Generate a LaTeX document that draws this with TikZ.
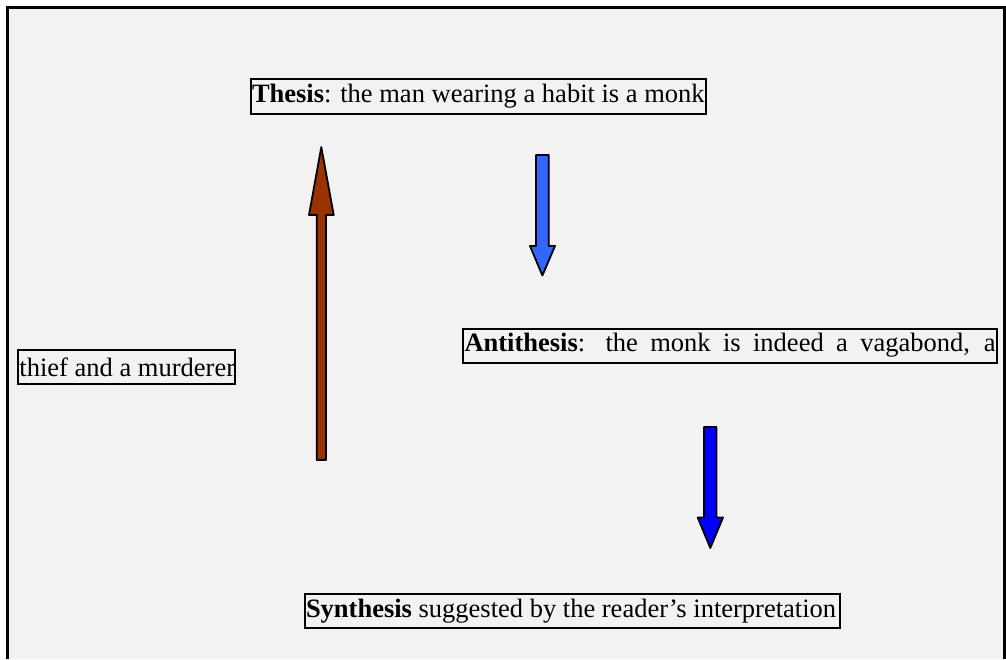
\documentclass[tikz,border=0pt]{standalone}
\usepackage{fontspec}
\setmainfont{Liberation Serif}
\definecolor{bgray}{HTML}{F2F2F2}
\definecolor{brownA}{HTML}{993300}
\definecolor{lblue}{HTML}{3366FF}
\definecolor{dblue}{HTML}{0000FF}
\tikzset{
  txtbox/.style={draw=black, line width=2pt, fill=bgray, inner sep=0pt, anchor=north west, font=\fontsize{26.5}{30}\selectfont},
  blockarrow/.style={draw=black, line width=1.8pt, line join=round}
}
\begin{document}
\begin{tikzpicture}[x=1pt,y=-1pt]
\useasboundingbox (0,0) rectangle (1006,659);
\fill[white] (0,0) rectangle (1006,659);
\fill[bgray] (7.5,7.5) rectangle (1004.5,659);
\draw[line width=2.2pt] (7.5,659) -- (7.5,7.5) -- (1004.5,7.5) -- (1004.5,659);
% boxes
\node[txtbox, minimum width=455pt, minimum height=35pt] (thesis) at (249.5,78)
  {\makebox[452pt][l]{\textbf{Thesis}: the man wearing a habit is a monk}};
\node[txtbox, minimum width=534pt, minimum height=34pt] (anti) at (462,327.5)
  {\makebox[531pt][s]{\textbf{Antithesis}: the monk is indeed a vagabond, a}};
\node[txtbox, minimum width=217pt, minimum height=34pt] (thief) at (17,349)
  {\makebox[214pt][l]{thief and a murderer}};
\node[txtbox, minimum width=535pt, minimum height=34pt] (synth) at (303.5,593)
  {\makebox[532pt][l]{\textbf{Synthesis} suggested by the reader’s interpretation}};
% brown up arrow
\filldraw[blockarrow, fill=brownA] (316.7,460) -- (316.7,215) -- (309,215) -- (321.3,147) -- (333.7,215) -- (326,215) -- (326,460) -- cycle;
% light blue down arrow
\filldraw[blockarrow, fill=lblue] (536,155) -- (548.7,155) -- (548.7,246) -- (555,246) -- (542.4,275.5) -- (530,246) -- (536,246) -- cycle;
% dark blue down arrow
\filldraw[blockarrow, fill=dblue] (704,427) -- (716.5,427) -- (716.5,517.5) -- (723,517.5) -- (710.3,548) -- (697.7,517.5) -- (704,517.5) -- cycle;
\end{tikzpicture}
\end{document}
